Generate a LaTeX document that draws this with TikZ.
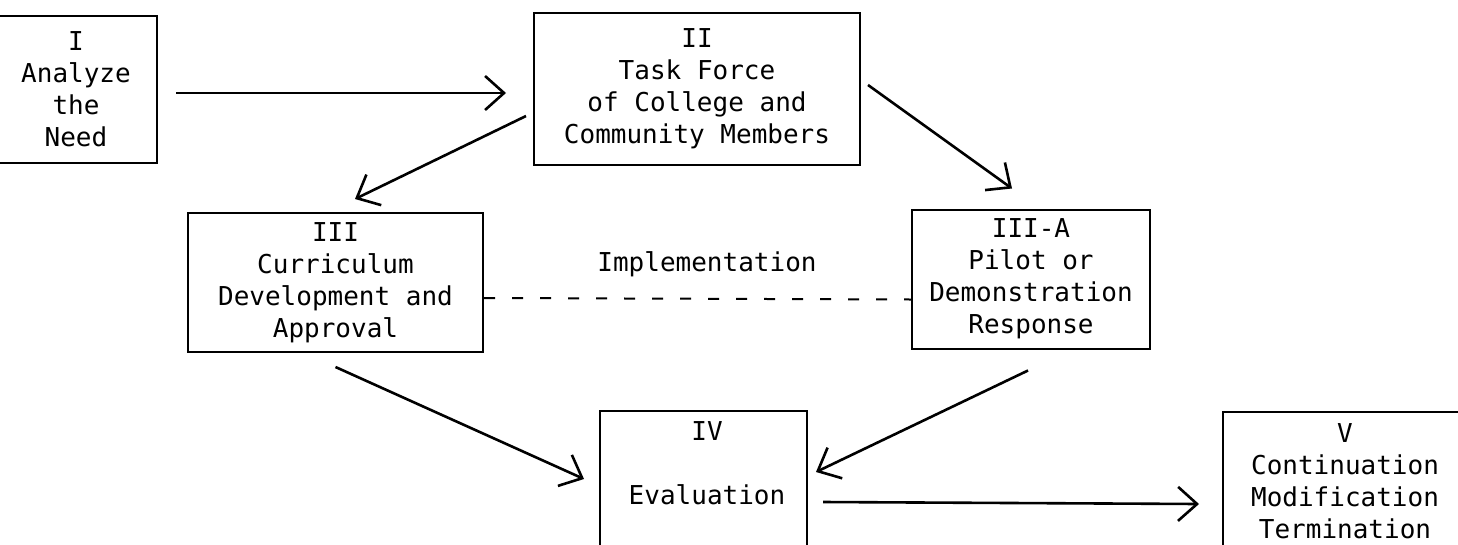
\documentclass[tikz,border=0pt]{standalone}
\usepackage{fontspec}
\newfontfamily\tw{DejaVu Sans Mono}
\usetikzlibrary{arrows.meta,calc}
\begin{document}
\begin{tikzpicture}[x=1pt,y=-1pt,
  twfont/.style={font=\tw\fontsize{26}{32}\selectfont},
  box/.style={draw, line width=2pt, inner sep=0pt, align=center, twfont},
  txt/.style={inner sep=0pt, align=center, twfont},
  arr/.style={line width=2.6pt, -{Straight Barb[length=19pt,width=34pt,line width=2.6pt]}},
  dashline/.style={line width=2pt, dash pattern=on 11pt off 17pt}]
\useasboundingbox (0,0) rectangle (1458,544);
\clip (0,0) rectangle (1458,544);
\fill[white] (0,0) rectangle (1458,544);
% boxes
\node[box, minimum width=162pt, minimum height=147pt] (b1) at (76,89.5) {I\\Analyze\\the\\Need};
\node[box, minimum width=326pt, minimum height=152pt] (b2) at (697,89) {II\\Task Force\\of College and\\Community Members};
\node[box, minimum width=295pt, minimum height=139pt] (b3) at (335.5,282.5) {III\\Curriculum\\Development and\\Approval};
\node[box, minimum width=238pt, minimum height=139pt] (b3a) at (1031,279) {III-A\\Pilot or\\Demonstration\\Response};
\node[box, minimum width=207pt, minimum height=200pt] (b4) at (703.5,511) {};
\node[box, minimum width=244pt, minimum height=200pt] (b5) at (1345,512) {};
\node[txt, anchor=north] (t4) at (707,421) {IV\\[32pt]Evaluation};
\node[txt, anchor=north] (t5) at (1345,423) {V\\Continuation\\Modification\\Termination};
% label
\node[txt] (impl) at (707,264) {Implementation};
% connectors
\draw[arr] ($(b1.east)+(18,3.5)$) -- ($(b2.west)+(-27,4)$);
\draw[arr] ($(b2.south west)+(-7,-50)$) -- ($(b3.north)+(19.5,-13)$);
\draw[arr] ($(b2.east)+(7,-4)$) -- ($(b3a.north)+(-19,-20)$);
\draw[arr] ($(b3.south)+(0,14)$) -- ($(b4.north west)+(-15,69)$);
\draw[arr] ($(b3a.south)+(-3,21)$) -- ($(b4.north east)+(8,62)$);
\draw[arr] ($(b4.north east)+(15,92)$) -- ($(b5.north west)+(-23,93)$);
\draw[dashline] ($(b3.north east)+(0,86)$) -- ($(b3a.north west)+(0,91)$);
\end{tikzpicture}
\end{document}
